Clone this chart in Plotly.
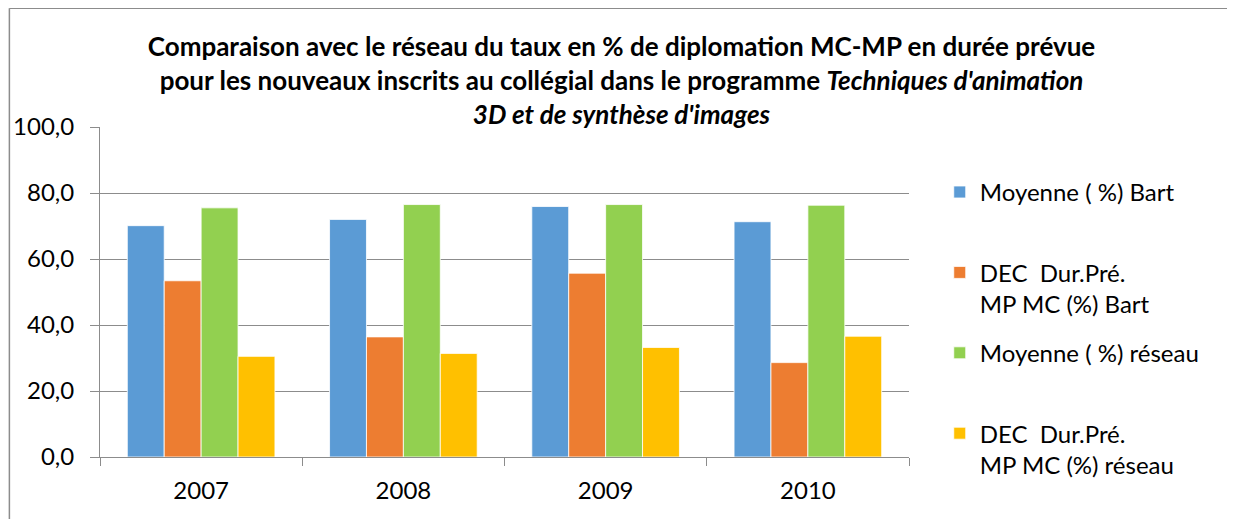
import plotly.graph_objects as go

# années
annees = ["2007", "2008", "2009", "2010"]

# valeurs (%)
moy_bart = [70.1, 72.0, 75.9, 71.3]
dec_bart = [53.4, 36.4, 55.7, 28.6]
moy_reseau = [75.5, 76.5, 76.5, 76.3]
dec_reseau = [30.5, 31.4, 33.2, 36.6]

noms = [
    "Moyenne ( %) Bart<br> ",
    "DEC  Dur.Pré.<br>MP MC (%) Bart",
    "Moyenne ( %) réseau<br> ",
    "DEC  Dur.Pré.<br>MP MC (%) réseau",
]
couleurs = ["#5B9BD5", "#ED7D31", "#92D050", "#FFC000"]
series = [moy_bart, dec_bart, moy_reseau, dec_reseau]

police = "Lato"
gris = "#8c8c8c"

fig = go.Figure()
for nom, vals, c in zip(noms, series, couleurs):
    fig.add_trace(go.Bar(x=annees, y=vals, name=nom, legendgroup=nom,
                         marker=dict(color=c, line=dict(color="white", width=0.8))))

titre = ("<b>Comparaison avec le réseau du taux en % de diplomation MC-MP en durée prévue<br>"
         "pour les nouveaux inscrits au collégial dans le programme <i>Techniques d'animation</i><br>"
         "<i>3D et de synthèse d'images</i></b>")

# la page a une marge de 8 px : on compense
fig.update_layout(
    width=1227, height=511,
    margin=dict(l=92, r=326, t=119, b=62, autoexpand=False),
    paper_bgcolor="white", plot_bgcolor="white",
    font=dict(family=police, size=24, color="black"),
    separators=", ",
    barmode="group", bargap=0.27, bargroupgap=0,
    title=dict(text=titre, x=0.5, xref="container", xanchor="center",
               y=0.906, yref="container", yanchor="top",
               font=dict(family=police, size=26, color="black")),
    legend=dict(x=1.038, xanchor="left", y=0.87, yanchor="top",
                valign="top", tracegroupgap=15,
                font=dict(family=police, size=24, color="black")),
    xaxis=dict(type="category", tickson="boundaries", ticks="outside",
               ticklen=8, tickcolor=gris, showline=True, linecolor=gris,
               showgrid=False, tickfont=dict(size=24), ticklabelstandoff=12,
               automargin=False),
    yaxis=dict(range=[0, 100], dtick=20, tickformat=".1f", ticks="outside",
               ticklen=9, tickcolor=gris, showline=True, linecolor=gris,
               gridcolor=gris, gridwidth=1, zeroline=False,
               tickfont=dict(size=24), ticklabelstandoff=11, automargin=False),
    shapes=[
        dict(type="line", xref="paper", yref="paper", x0=-0.112, x1=1.41,
             y0=1.36, y1=1.36, line=dict(color=gris, width=1.5)),
        dict(type="line", xref="paper", yref="paper", x0=-0.112, x1=-0.112,
             y0=1.36, y1=-0.2, line=dict(color=gris, width=1.5)),
    ],
)

fig.write_html("out.html")
